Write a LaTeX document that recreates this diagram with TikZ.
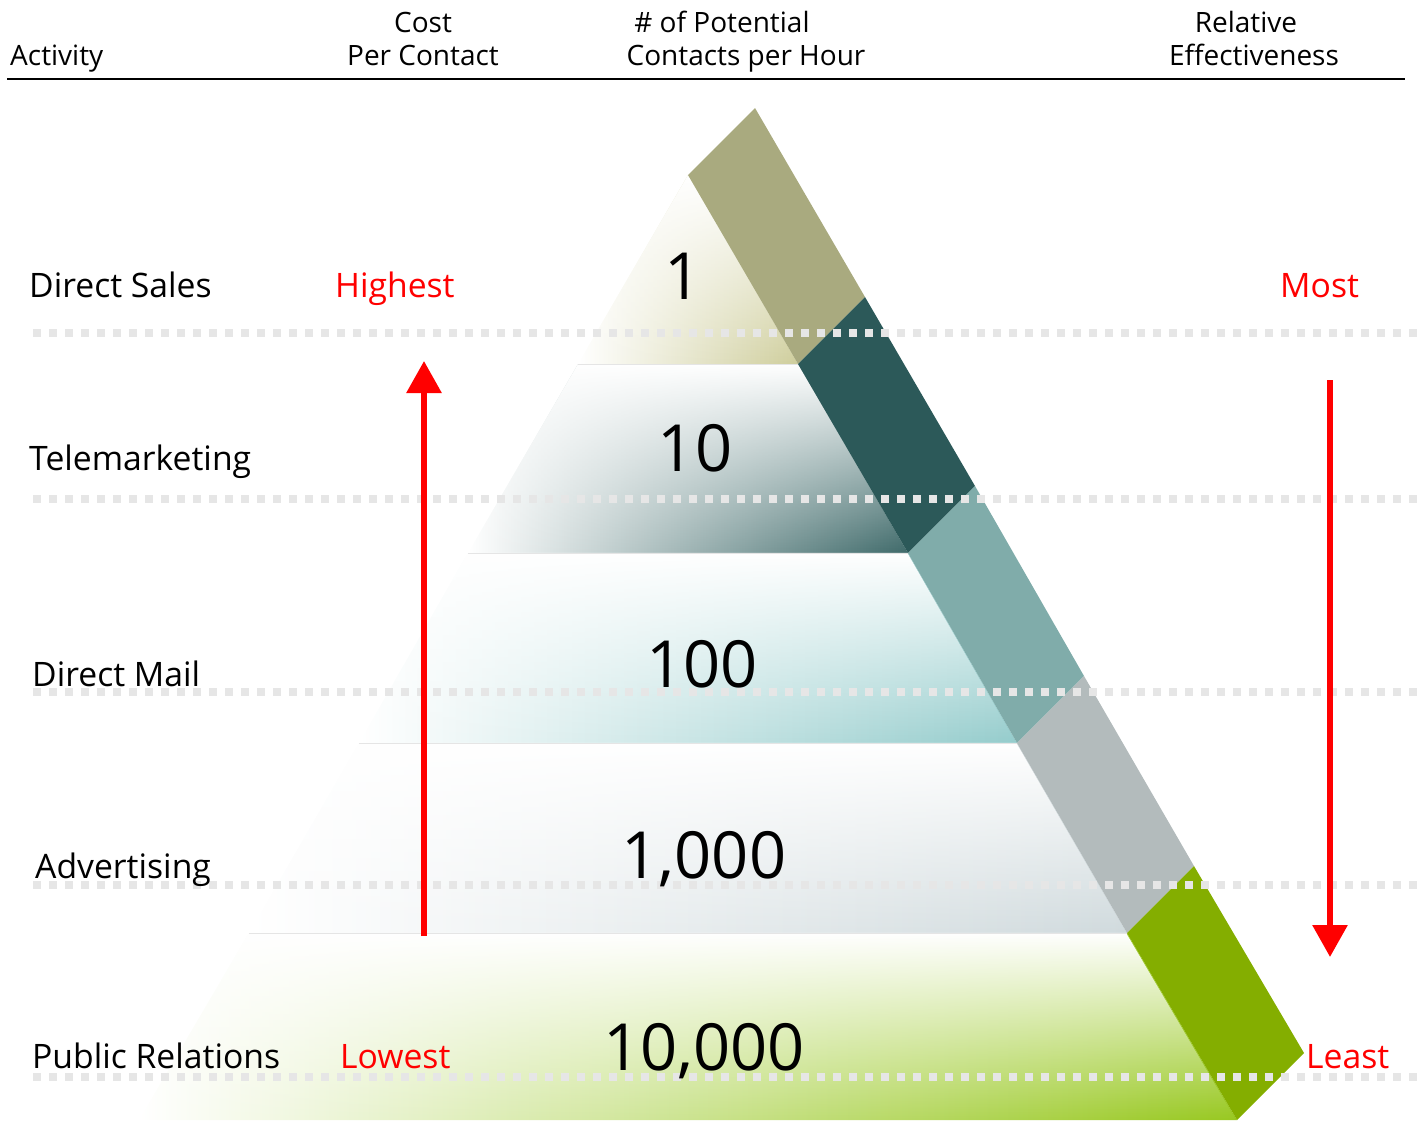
\documentclass[tikz,border=0pt]{standalone}
\usepackage{fontspec}
\setmainfont{Open Sans}
\usetikzlibrary{arrows.meta,fadings}
\definecolor{bandA}{HTML}{A9AA7F}
\definecolor{bandB}{HTML}{2C5959}
\definecolor{bandC}{HTML}{80ACAA}
\definecolor{bandD}{HTML}{B3BBBC}
\definecolor{bandE}{HTML}{84AE00}
\definecolor{layA}{HTML}{CFCE9C}
\definecolor{layB}{HTML}{3F6A6A}
\definecolor{layC}{HTML}{94CCCC}
\definecolor{layD}{HTML}{D0DADD}
\definecolor{layE}{HTML}{98C820}
\definecolor{dotc}{HTML}{E6E6E6}
\definecolor{redc}{HTML}{FF0000}
\tikzfading[name=topwhite, top color=transparent!0, middle color=transparent!60, bottom color=transparent!100]
\tikzset{
  hdr/.style={inner sep=0pt, font=\fontsize{28}{32}\selectfont},
  rowlab/.style={inner sep=0pt, anchor=base west, font=\fontsize{33.7}{40}\selectfont},
  redlab/.style={rowlab, text=redc},
  numlab/.style={inner sep=0pt, anchor=base, font=\fontsize{65}{72}\selectfont},
  dotline/.style={dotc, line width=8pt, dash pattern=on 8pt off 8pt, line cap=butt},
  redarrow/.style={redc, line width=6pt, -{Triangle[length=32pt,width=34pt]}},
  layfade/.style={white, path fading=topwhite},
  layedge/.style={black!10, line width=0.8pt}
}
\begin{document}
\begin{tikzpicture}[x=1pt,y=-1pt]
\useasboundingbox (0,0) rectangle (1419,1120);
\clip (0,0) rectangle (1419,1120);
% pyramid edge points
\coordinate (P0) at (688,175);
\coordinate (P1) at (798,364);
\coordinate (P2) at (908,553);
\coordinate (P3) at (1017,743);
\coordinate (P4) at (1127,933);
\coordinate (P5) at (1237,1120);
\coordinate (L1) at (578,364);
\coordinate (L2) at (468,553);
\coordinate (L3) at (359,743);
\coordinate (L4) at (249,933);
\coordinate (L5) at (139,1120);
\coordinate (Q0) at (755,108);
\coordinate (Q1) at (865,297);
\coordinate (Q2) at (975,486);
\coordinate (Q3) at (1084,676);
\coordinate (Q4) at (1194,866);
\coordinate (Q5) at (1304,1053);
% layers
\shade[left color=white, right color=layA] (P0) -- (P1) -- (L1) -- cycle;
\fill[layfade] (P0) -- (P1) -- (L1) -- cycle;
\shade[left color=white, right color=layB] (L1) -- (P1) -- (P2) -- (L2) -- cycle;
\fill[layfade] (L1) -- (P1) -- (P2) -- (L2) -- cycle;
\shade[left color=white, right color=layC] (L2) -- (P2) -- (P3) -- (L3) -- cycle;
\fill[layfade] (L2) -- (P2) -- (P3) -- (L3) -- cycle;
\shade[left color=white, right color=layD] (L3) -- (P3) -- (P4) -- (L4) -- cycle;
\fill[layfade] (L3) -- (P3) -- (P4) -- (L4) -- cycle;
\shade[left color=white, right color=layE] (L4) -- (P4) -- (P5) -- (L5) -- cycle;
\fill[layfade] (L4) -- (P4) -- (P5) -- (L5) -- cycle;
\draw[layedge] (L1) -- (P1);
\draw[layedge] (L2) -- (P2);
\draw[layedge] (L3) -- (P3);
\draw[layedge] (L4) -- (P4);
% band
\fill[bandA] (P0) -- (Q0) -- (Q1) -- (P1) -- cycle;
\fill[bandB] (P1) -- (Q1) -- (Q2) -- (P2) -- cycle;
\fill[bandC] (P2) -- (Q2) -- (Q3) -- (P3) -- cycle;
\fill[bandD] (P3) -- (Q3) -- (Q4) -- (P4) -- cycle;
\fill[bandE] (P4) -- (Q4) -- (Q5) -- (P5) -- cycle;
% dotted lines
\draw[dotline] (33,333) -- (1419,333);
\draw[dotline] (33,499) -- (1419,499);
\draw[dotline] (33,692) -- (1419,692);
\draw[dotline] (33,885) -- (1419,885);
\draw[dotline] (33,1077) -- (1419,1077);
% header
\node[hdr, anchor=base west] (hAct) at (10,65) {Activity};
\node[hdr, anchor=base] (hCost1) at (423,32) {Cost};
\node[hdr, anchor=base] (hCost2) at (423,65) {Per Contact};
\node[hdr, anchor=base] (hPot1) at (722,32) {\# of Potential};
\node[hdr, anchor=base] (hPot2) at (746,65) {Contacts per Hour};
\node[hdr, anchor=base] (hRel1) at (1246,32) {Relative};
\node[hdr, anchor=base] (hRel2) at (1254,65) {Effectiveness};
\coordinate (hl1) at (7,79);
\coordinate (hl2) at (1405,79);
\draw[line width=2.5pt] (hl1) -- (hl2);
% row labels
\node[rowlab] (r1) at (29,297) {Direct Sales};
\node[rowlab] (r2) at (29,470) {Telemarketing};
\node[rowlab] (r3) at (32,686) {Direct Mail};
\node[rowlab] (r4) at (35,878) {Advertising};
\node[rowlab] (r5) at (32,1068) {Public Relations};
% red labels
\node[redlab] (hi) at (335,297) {Highest};
\node[redlab] (lo) at (340,1068) {Lowest};
\node[redlab] (mo) at (1280,297) {Most};
\node[redlab] (le) at (1306,1068) {Least};
% numbers
\node[numlab] (n1) at (683,299) {1};
\node[numlab] (n2) at (695,471) {10};
\node[numlab] (n3) at (702,687) {100};
\node[numlab] (n4) at (704,878) {1,000};
\node[numlab] (n5) at (704,1070) {10,000};
% arrows
\coordinate (la1) at (424,936);
\coordinate (la2) at (424,361);
\coordinate (ra1) at (1330,380);
\coordinate (ra2) at (1330,957);
\draw[redarrow] (la1) -- (la2);
\draw[redarrow] (ra1) -- (ra2);
\end{tikzpicture}
\end{document}
